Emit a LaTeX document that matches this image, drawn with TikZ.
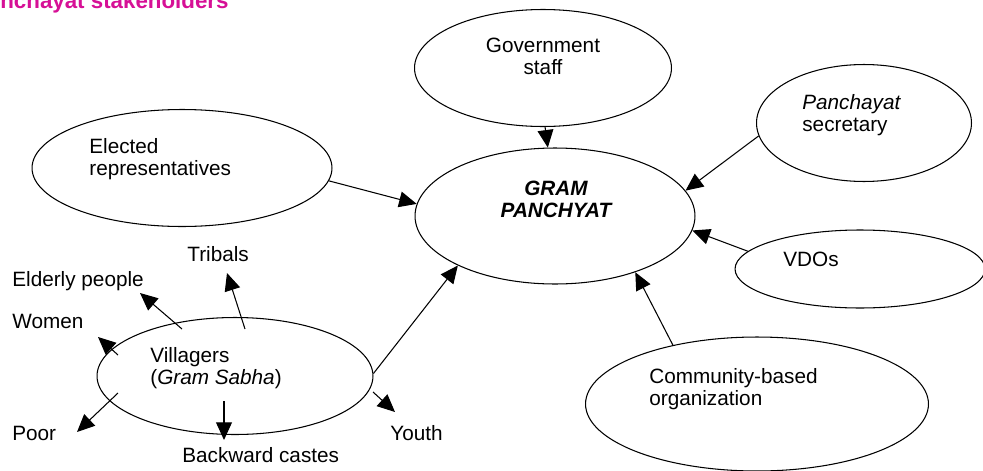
\documentclass[tikz,border=0pt]{standalone}
\usepackage{fontspec}
\setmainfont{Liberation Sans}
\usepackage{xcolor}
\usetikzlibrary{shapes.geometric, arrows.meta}
\definecolor{titlepink}{RGB}{214,16,150}

\begin{document}
\begin{tikzpicture}[x=0.02cm, y=-0.02cm,
        stake/.style={draw, ellipse, line width=0.6pt, inner sep=0pt},
        lbl/.style={inner sep=0pt, anchor=west, align=left, font=\fontsize{11.8}{12.5}\selectfont},
        feed/.style={line width=0.6pt, -{Triangle[length=10pt, width=9pt]}}]
    \useasboundingbox (0,0) rectangle (983,470);

    \node[anchor=base west, inner sep=0pt, text=titlepink, font=\fontsize{12.7}{14}\selectfont\bfseries] (title) at (0,9) {nchayat stakeholders};

    % the stakeholders
    \node[stake, minimum width=5.14cm, minimum height=2.34cm] (gov) at (543,68) {};
    \node[stake, minimum width=5.6cm, minimum height=2.72cm] (gp) at (555,216) {};
    \node[stake, minimum width=6cm, minimum height=2.34cm] (elect) at (182,168) {};
    \node[stake, minimum width=4.3cm, minimum height=2.34cm] (sec) at (864,123) {};
    \node[stake, minimum width=5cm, minimum height=1.56cm] (vdo) at (860,269) {};
    \node[stake, minimum width=6.86cm, minimum height=2.68cm] (cbo) at (757,404) {};
    \node[stake, minimum width=5.52cm, minimum height=2.34cm] (vil) at (235,376) {};

    \node[lbl, align=center, anchor=center] (govtxt) at (543,56) {Government\\staff};
    \node[lbl, align=center, anchor=center, font=\fontsize{11.8}{12.5}\selectfont\bfseries\itshape] (gptxt) at (556,199) {GRAM\\PANCHYAT};
    \node[lbl] (electtxt) at (89,159) {Elected\\representatives};
    \node[lbl] (sectxt) at (802,115) {\textit{Panchayat}\\secretary};
    \node[lbl] (vdotxt) at (783,259) {VDOs};
    \node[lbl] (cbotxt) at (649,389) {Community-based\\organization};
    \node[lbl] (viltxt) at (150,368) {Villagers\\(\textit{Gram Sabha})};

    \draw[feed] (elect.-5) -- (gp.175);
    \draw[feed] (gov.-88) -- (gp.96);
    \draw[feed] (sec.187) -- (gp.11);
    \draw[feed] (vdo.171) -- (gp.-6);
    \draw[feed] (cbo.145) -- (gp.-35);
    \draw[feed] (vil.1) -- (gp.207);

    % groups inside the gram sabha
    \node[lbl] (trib) at (187,254.5) {Tribals};
    \node[lbl] (eld) at (12,281.5) {Elderly people};
    \node[lbl] (wom) at (12,321.5) {Women};
    \node[lbl] (poor) at (12,433.5) {Poor};
    \node[lbl] (back) at (182,455.5) {Backward castes};
    \node[lbl] (youth) at (390,433.5) {Youth};

    \coordinate (vTrib) at (245,329);  \coordinate (tTrib) at (227,273);
    \coordinate (vEld) at (182,329);   \coordinate (tEld) at (140,293);
    \coordinate (vWom) at (118,355);   \coordinate (tWom) at (98,337);
    \coordinate (vPoor) at (118,393);  \coordinate (tPoor) at (77,432);
    \coordinate (vBack) at (224,401);  \coordinate (tBack) at (224,440);
    \coordinate (vYouth) at (373,392); \coordinate (tYouth) at (395,412);

    \draw[feed] (vTrib) -- (tTrib);
    \draw[feed] (vEld) -- (tEld);
    \draw[feed] (vWom) -- (tWom);
    \draw[feed] (vPoor) -- (tPoor);
    \draw[feed] (vBack) -- (tBack);
    \draw[feed] (vYouth) -- (tYouth);
\end{tikzpicture}
\end{document}
